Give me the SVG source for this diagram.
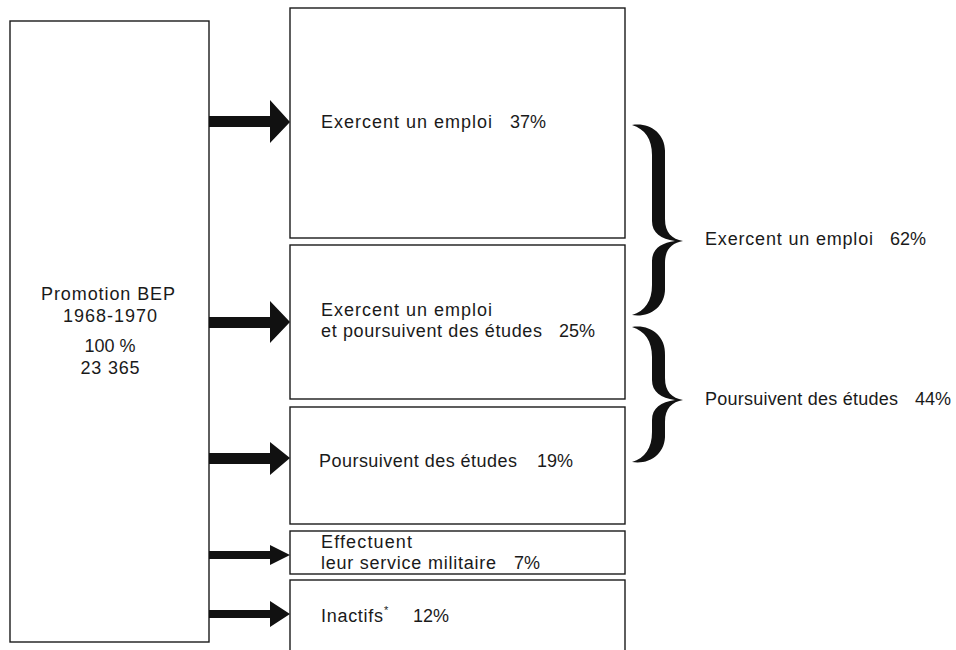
<svg xmlns="http://www.w3.org/2000/svg" width="956" height="650" viewBox="0 0 956 650">
<style>
.box{fill:#fff;stroke:#1a1a1a;stroke-width:1.4}
.t{font-family:"Liberation Sans",Arial,sans-serif;font-size:18px;fill:#1a1a1a}
.c{text-anchor:middle}
.arr{fill:#111}
.br{fill:#111}
</style>
<rect x="0" y="0" width="956" height="650" fill="#fff"/>
<g id="source">
<rect class="box" x="10" y="21" width="199" height="621"/>
<text class="t c" x="108" y="300" textLength="134" lengthAdjust="spacing">Promotion BEP</text>
<text class="t c" x="110" y="322" textLength="94" lengthAdjust="spacing">1968-1970</text>
<text class="t c" x="110" y="352" textLength="51" lengthAdjust="spacing">100 %</text>
<text class="t c" x="110" y="374" textLength="59" lengthAdjust="spacing">23 365</text>
</g>
<g id="emploi">
<rect class="box" x="290" y="8" width="335" height="230"/>
<text class="t" y="128"><tspan x="321" textLength="171" lengthAdjust="spacing">Exercent un emploi</tspan><tspan x="510">37%</tspan></text>
</g>
<g id="emploi-etudes">
<rect class="box" x="290" y="245" width="335" height="154"/>
<text class="t" x="321" y="316" textLength="171" lengthAdjust="spacing">Exercent un emploi</text>
<text class="t" y="337"><tspan x="321" textLength="221" lengthAdjust="spacing">et poursuivent des études</tspan><tspan x="559">25%</tspan></text>
</g>
<g id="etudes">
<rect class="box" x="290" y="407" width="335" height="117"/>
<text class="t" y="467"><tspan x="319" textLength="198" lengthAdjust="spacing">Poursuivent des études</tspan><tspan x="537">19%</tspan></text>
</g>
<g id="militaire">
<rect class="box" x="290" y="531" width="335" height="43"/>
<text class="t" x="321" y="548" textLength="91" lengthAdjust="spacing">Effectuent</text>
<text class="t" y="569"><tspan x="321" textLength="175" lengthAdjust="spacing">leur service militaire</tspan><tspan x="514">7%</tspan></text>
</g>
<g id="inactifs">
<rect class="box" x="290" y="580" width="335" height="80"/>
<text class="t" y="622"><tspan x="321" textLength="62" lengthAdjust="spacing">Inactifs</tspan><tspan x="384" font-size="11px" dy="-8">*</tspan><tspan x="413" dy="8">12%</tspan></text>
</g>
<g id="connectors">
<polygon class="arr" points="209,116 270,116 270,100 290,122 270,143 270,127 209,127"/>
<polygon class="arr" points="209,317 270,317 270,301 290,322 270,343 270,328 209,328"/>
<polygon class="arr" points="209,453 270,453 270,442 290,458 270,475 270,464 209,464"/>
<polygon class="arr" points="209,551 270,551 270,545 290,555 270,565 270,559 209,559"/>
<polygon class="arr" points="209,610 270,610 270,601 290,614 270,627 270,618 209,618"/>
</g>
<g id="brace-emploi">
<path class="br" d="M632,125 C649,122 666,133 665,153 L665,219 C665,233 672,239 683,241 C672,243 665,249 665,263 L665,287 C666,307 649,318 632,315 C645,311 652,301 652,285 L652,261 C652,249 661,243 675,241 C661,239 652,233 652,221 L652,155 C652,139 645,129 632,125 Z"/>
<text class="t" y="245"><tspan x="705" textLength="168" lengthAdjust="spacing">Exercent un emploi</tspan><tspan x="890">62%</tspan></text>
</g>
<g id="brace-etudes">
<path class="br" d="M632,327 C649,324 666,335 665,355 L665,378 C665,392 672,398 683,400 C672,402 665,408 665,422 L665,434 C666,454 649,465 632,462 C645,458 652,448 652,432 L652,420 C652,408 661,402 675,400 C661,398 652,392 652,380 L652,357 C652,341 645,331 632,327 Z"/>
<text class="t" y="405"><tspan x="705" textLength="193" lengthAdjust="spacing">Poursuivent des études</tspan><tspan x="915">44%</tspan></text>
</g>
</svg>
